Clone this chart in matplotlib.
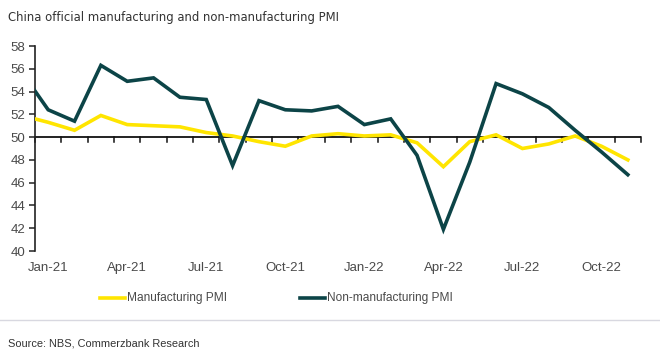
import matplotlib
matplotlib.use('Agg')
import matplotlib.pyplot as plt
from matplotlib.lines import Line2D

# monthly PMI, Dec-20 .. Nov-22 (Dec-20 only used so the line enters at the axis)
months = ['Dec-20', 'Jan-21', 'Feb-21', 'Mar-21', 'Apr-21', 'May-21', 'Jun-21',
          'Jul-21', 'Aug-21', 'Sep-21', 'Oct-21', 'Nov-21', 'Dec-21',
          'Jan-22', 'Feb-22', 'Mar-22', 'Apr-22', 'May-22', 'Jun-22',
          'Jul-22', 'Aug-22', 'Sep-22', 'Oct-22', 'Nov-22']
manufacturing = [51.9, 51.3, 50.6, 51.9, 51.1, 51.0, 50.9, 50.4, 50.1, 49.6, 49.2, 50.1,
                 50.3, 50.1, 50.2, 49.5, 47.4, 49.6, 50.2, 49.0, 49.4, 50.1, 49.2, 48.0]
non_manufacturing = [55.7, 52.4, 51.4, 56.3, 54.9, 55.2, 53.5, 53.3, 47.5, 53.2, 52.4, 52.3,
                     52.7, 51.1, 51.6, 48.4, 41.9, 47.8, 54.7, 53.8, 52.6, 50.6, 48.7, 46.7]
label_months = ['Jan-21', 'Apr-21', 'Jul-21', 'Oct-21', 'Jan-22', 'Apr-22', 'Jul-22', 'Oct-22']
series_names = ['Manufacturing PMI', 'Non-manufacturing PMI']

yellow = '#ffe500'
petrol = '#0c4447'
grey = '#4a4a4a'

W, H = 660, 356
fig = plt.figure(figsize=(6.6, 3.56), dpi=100)
ax = fig.add_axes([35 / W, 1 - 251 / H, (641 - 35) / W, (251 - 46) / H])

x = list(range(len(months)))
ax.plot(x, manufacturing, color=yellow, lw=2.6, solid_joinstyle='miter', zorder=3)
ax.plot(x, non_manufacturing, color=petrol, lw=2.6, solid_joinstyle='miter', zorder=4)

ax.set_xlim(0.5, len(months) - 0.5)
ax.set_ylim(40, 58)
ax.set_yticks(range(40, 59, 2))

# x axis crossing at 50 with ticks between categories
ax.spines['top'].set_visible(False)
ax.spines['right'].set_visible(False)
ax.spines['bottom'].set_visible(False)
ax.spines['left'].set_color('#222222')
ax.spines['left'].set_linewidth(1.2)
ax.axhline(50, color='#111111', lw=1.3, zorder=2)
for b in range(len(months)):
    ax.plot([b + 0.5, b + 0.5], [50, 49.6], color='#111111', lw=1.1, zorder=2, clip_on=False)

ax.set_xticks([])
for m in label_months:
    i = months.index(m)
    ax.text(i, 38.55, m, ha='center', va='center', fontsize=9.5, color=grey,
            family='Liberation Sans')

ax.tick_params(axis='y', direction='out', length=4, width=1.1, color='#222222',
               labelsize=9.5, labelcolor=grey, pad=3)
for t in ax.get_yticklabels():
    t.set_family('Liberation Sans')

fig.text(8 / W, 1 - 18 / H, 'China official manufacturing and non-manufacturing PMI',
         ha='left', va='center', fontsize=8.35, color='#333333', family='DejaVu Sans')

# legend, drawn by hand to hit the positions
ly = 1 - 298 / H
for x0, col, name in zip([100, 300], [yellow, petrol], series_names):
    fig.add_artist(Line2D([x0 / W, (x0 + 25) / W], [ly, ly], color=col, lw=2.6))
    fig.text((x0 + 27) / W, ly, name, ha='left', va='center', fontsize=8.6,
             color=grey, family='Liberation Sans')

fig.add_artist(Line2D([0, 1], [1 - 320 / H, 1 - 320 / H], color='#d8d8e0', lw=1))
fig.text(8 / W, 1 - 344 / H, 'Source: NBS, Commerzbank Research', ha='left', va='center',
         fontsize=7.9, color='#333333', family='Liberation Sans')

fig.savefig('out.png', dpi=100)
